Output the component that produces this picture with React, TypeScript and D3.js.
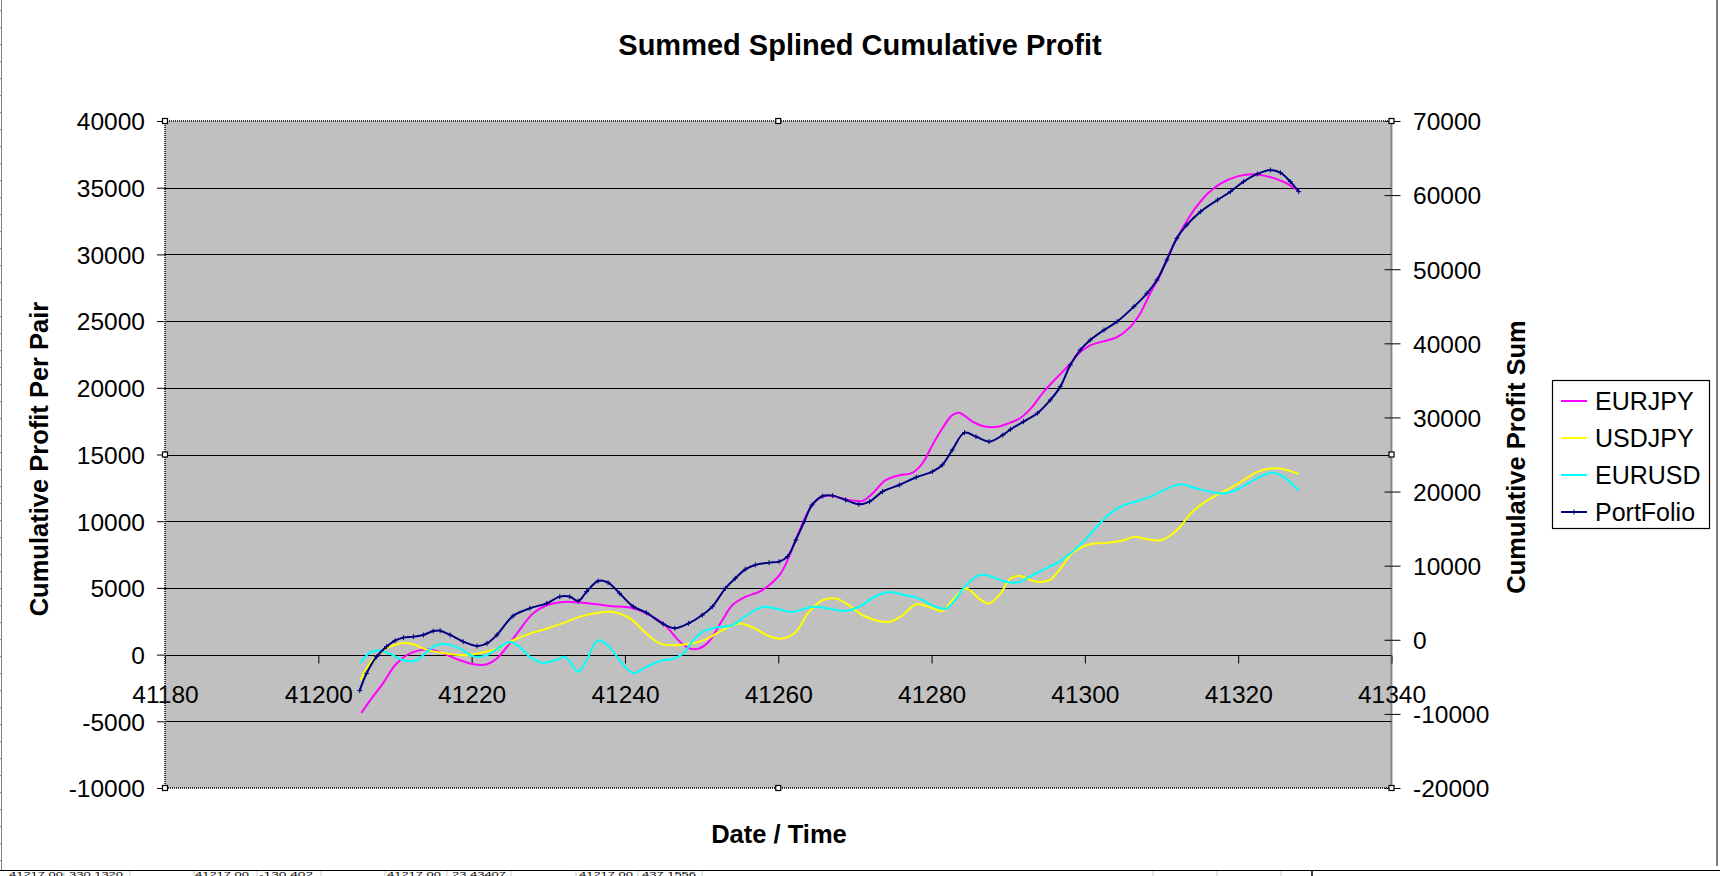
import * as d3 from "d3";
import React, { useEffect, useRef } from "react";

type Pt = [number, number];

// date serial, profit (left axis)
const eurjpy: Pt[] = [
  [41205.6, -4380], [41207.0, -3250], [41208.5, -2100], [41210.0, -800], [41211.5, -50],
  [41213.0, 300], [41214.5, 375], [41216.3, 75], [41218.5, -425], [41220.2, -725], [41222.0, -725],
  [41223.3, -300], [41224.6, 575], [41225.9, 1575], [41228.0, 3075], [41229.8, 3700],
  [41232.0, 3950], [41234.1, 3900], [41236.3, 3775], [41238.5, 3625], [41240.7, 3525],
  [41242.8, 3075], [41245.0, 2325], [41247.2, 950], [41248.5, 450], [41249.6, 450],
  [41250.9, 950], [41252.7, 2575], [41254.0, 3700], [41255.7, 4325], [41257.5, 4700],
  [41258.8, 5200], [41260.3, 6075], [41261.4, 7325], [41262.7, 9200], [41264.0, 10825],
  [41265.3, 11700], [41266.6, 11925], [41268.4, 11700], [41270.1, 11525], [41271.0, 11525],
  [41272.3, 12075], [41274.0, 13075], [41275.8, 13450], [41277.5, 13625], [41278.8, 14325],
  [41280.1, 15700], [41281.4, 16950], [41282.7, 17950], [41283.6, 18125], [41285.4, 17450],
  [41287.1, 17075], [41288.8, 17100], [41290.2, 17375], [41291.5, 17700], [41292.9, 18425],
  [41294.6, 19675], [41296.4, 20800], [41298.1, 21800], [41299.4, 22675], [41300.7, 23175],
  [41302.5, 23500], [41304.2, 23800], [41305.9, 24550], [41307.2, 25550], [41308.5, 27050],
  [41309.9, 28550], [41311.2, 30300], [41312.7, 31925], [41314.2, 33300], [41316.0, 34550],
  [41317.7, 35300], [41319.9, 35850], [41322.0, 36000], [41323.8, 35850], [41326.0, 35425],
  [41327.9, 34750],
];

const usdjpy: Pt[] = [
  [41205.5, -1925], [41206.7, -675], [41208.5, 325], [41209.8, 700], [41211.1, 875],
  [41212.4, 775], [41214.1, 375], [41216.7, 75], [41218.9, -50], [41221.1, 125],
  [41223.3, 450], [41225.4, 1075], [41227.6, 1575], [41229.8, 1950], [41232.0, 2375],
  [41234.1, 2825], [41236.3, 3125], [41238.5, 3200], [41240.7, 2700], [41242.8, 1575],
  [41244.6, 825], [41246.3, 700], [41248.0, 775], [41250.5, 1125], [41252.7, 1825],
  [41254.9, 2325], [41257.0, 1950], [41258.8, 1375], [41260.5, 1200], [41262.3, 1700],
  [41264.0, 3200], [41265.8, 4075], [41267.5, 4200], [41269.2, 3700], [41271.0, 2950],
  [41272.7, 2575], [41274.5, 2450], [41276.2, 2950], [41278.0, 3775], [41279.7, 3575],
  [41281.4, 3275], [41282.7, 4075], [41284.5, 4950], [41286.2, 4200], [41287.5, 3825],
  [41289.0, 4575], [41290.3, 5700], [41291.6, 5900], [41292.9, 5575], [41294.2, 5450],
  [41295.5, 5625], [41296.8, 6450], [41298.5, 7700], [41300.7, 8275], [41302.9, 8375],
  [41305.1, 8575], [41306.4, 8825], [41308.1, 8650], [41309.9, 8575], [41311.2, 8950],
  [41312.5, 9625], [41313.8, 10575], [41315.5, 11375], [41317.2, 11950], [41319.0, 12500],
  [41320.7, 13075], [41322.5, 13700], [41324.2, 13950], [41326.0, 13900], [41327.9, 13525],
];

const eurusd: Pt[] = [
  [41205.5, -625], [41206.7, 125], [41208.0, 325], [41209.3, 75], [41211.1, -425],
  [41212.8, -425], [41214.1, 200], [41215.4, 700], [41216.7, 775], [41218.5, 450],
  [41220.2, -125], [41222.0, -50], [41223.7, 575], [41225.0, 950], [41226.3, 575],
  [41227.6, -175], [41229.3, -625], [41231.1, -375], [41232.2, -175], [41233.0, -675],
  [41233.9, -1300], [41235.0, -425], [41236.5, 1075], [41238.0, 575], [41239.3, -425],
  [41241.1, -1375], [41242.8, -925], [41244.6, -475], [41246.3, -300], [41247.6, 75],
  [41248.9, 1075], [41250.1, 1700], [41251.8, 2025], [41254.0, 2200], [41256.2, 3075],
  [41258.0, 3575], [41259.7, 3450], [41261.8, 3200], [41264.4, 3575], [41266.6, 3450],
  [41268.8, 3275], [41270.5, 3575], [41272.7, 4375], [41274.5, 4700], [41276.6, 4450],
  [41278.4, 4200], [41280.6, 3575], [41281.9, 3450], [41283.2, 4200], [41284.5, 5200],
  [41286.2, 5950], [41287.7, 5875], [41289.4, 5500], [41291.2, 5400], [41292.9, 5875],
  [41294.6, 6375], [41296.4, 6875], [41298.1, 7575], [41299.8, 8450], [41301.6, 9625],
  [41303.3, 10575], [41305.1, 11200], [41306.8, 11500], [41308.5, 11825], [41310.3, 12325],
  [41312.5, 12775], [41314.6, 12450], [41316.4, 12200], [41318.1, 12075], [41319.9, 12375],
  [41321.6, 12950], [41323.3, 13450], [41324.6, 13650], [41325.9, 13325], [41327.9, 12325],
];

// summed profit (right axis)
const portfolio: Pt[] = [
  [41205.4, -6860], [41206.3, -4525], [41207.6, -2275], [41208.9, -925], [41210.0, -120],
  [41211.1, 290], [41212.4, 425], [41213.7, 650], [41215.0, 1185], [41215.9, 1230],
  [41217.2, 650], [41218.9, -250], [41220.7, -835], [41222.0, -475], [41223.3, 650],
  [41225.4, 3210], [41227.6, 4245], [41229.8, 4920], [41231.5, 5820], [41232.8, 5820],
  [41233.9, 5235], [41235.0, 6495], [41236.5, 7935], [41237.8, 7710], [41239.3, 6270],
  [41241.1, 4470], [41242.8, 3660], [41245.0, 2130], [41246.5, 1545], [41248.3, 2220],
  [41250.1, 3345], [41251.4, 4470], [41253.1, 6945], [41254.4, 8295], [41255.7, 9510],
  [41257.0, 10095], [41258.8, 10410], [41260.1, 10545], [41261.2, 11220], [41262.3, 13465],
  [41263.4, 15940], [41264.4, 18190], [41265.8, 19405], [41267.1, 19450], [41268.8, 18865],
  [41270.5, 18280], [41271.9, 18640], [41273.6, 19990], [41275.8, 20890], [41278.0, 21925],
  [41280.1, 22690], [41281.4, 23590], [41282.7, 25610], [41284.3, 27950], [41285.8, 27410],
  [41287.5, 26735], [41289.3, 27635], [41290.3, 28400], [41292.0, 29435], [41293.8, 30560],
  [41295.5, 32360], [41296.8, 34160], [41298.1, 37080], [41299.4, 39105], [41300.7, 40455],
  [41302.5, 41805], [41304.2, 42930], [41306.4, 44955], [41308.1, 46750], [41309.4, 48550],
  [41310.7, 51250], [41312.0, 54175], [41313.3, 55975], [41315.1, 57770], [41317.3, 59345],
  [41319.0, 60470], [41320.7, 61820], [41322.5, 62855], [41324.2, 63395], [41325.5, 63035],
  [41326.8, 61820], [41327.9, 60470],
];

const xTicks = [41180, 41200, 41220, 41240, 41260, 41280, 41300, 41320, 41340];
const leftTicks = [-10000, -5000, 0, 5000, 10000, 15000, 20000, 25000, 30000, 35000, 40000];
const rightTicks = [-20000, -10000, 0, 10000, 20000, 30000, 40000, 50000, 60000, 70000];

const seriesNames = ["EURJPY", "USDJPY", "EURUSD", "PortFolio"];
const seriesColors = ["#FF00FF", "#FFFF00", "#00FFFF", "#000080"];

// spreadsheet cells peeking out below the chart
const sheetTexts = ["41217.00", "330.1320", "41217.00", "-130.402", "41217.00", "23.43407", "41217.00", "437.1556"];

const FONT = "'Liberation Sans', Arial, sans-serif";
const plain = (d: d3.NumberValue) => String(d);

const App: React.FC = () => {
  const ref = useRef<SVGSVGElement>(null);

  useEffect(() => {
    if (!ref.current) return;
    const svg = d3.select(ref.current);
    svg.selectAll("*").remove();

    const width = 1720,
      height = 876;
    const plot = { left: 165, right: 1391.5, top: 121, bottom: 788 };

    const x = d3.scaleLinear().domain([41180, 41340]).range([plot.left, plot.right]);
    const yL = d3.scaleLinear().domain([-10000, 40000]).range([plot.bottom, plot.top]);
    const yR = d3.scaleLinear().domain([-20000, 70000]).range([plot.bottom, plot.top]);

    svg.append("rect").attr("width", width).attr("height", height).attr("fill", "#fff");

    // sheet fragments (left row ticks, bottom cells)
    const sheet = svg.append("g");
    sheet.append("line").attr("x1", 1.5).attr("x2", 1.5).attr("y1", 0).attr("y2", 870)
      .attr("stroke", "#808080");
    d3.range(10.7, 870, 17).forEach((yy) => {
      sheet.append("line").attr("x1", 0).attr("x2", 2).attr("y1", yy).attr("y2", yy).attr("stroke", "#808080");
    });
    sheet.append("line").attr("x1", 1717).attr("x2", 1717).attr("y1", 0).attr("y2", 866)
      .attr("stroke", "#000");
    sheet.append("line").attr("x1", 0).attr("x2", width).attr("y1", 870.5).attr("y2", 870.5)
      .attr("stroke", "#000").attr("stroke-width", 1.2);
    [64, 130, 194, 257, 321, 385, 447, 511, 576, 638, 702, 1153, 1217, 1281].forEach((cx) => {
      sheet.append("line").attr("x1", cx).attr("x2", cx).attr("y1", 871).attr("y2", height)
        .attr("stroke", "#c8c8c8");
    });
    sheet.append("line").attr("x1", 1312).attr("x2", 1312).attr("y1", 871).attr("y2", height)
      .attr("stroke", "#000").attr("stroke-width", 1.5);
    const cellX = [9, 69, 195, 259, 387, 452, 579, 642];
    sheet.selectAll(".cell").data(sheetTexts).enter().append("text")
      .attr("x", (_, i) => cellX[i]).attr("y", 876.5)
      .attr("textLength", 54).attr("lengthAdjust", "spacingAndGlyphs")
      .style("font-family", FONT).style("font-size", "7px").text((d) => d);

    // plot area
    svg.append("rect")
      .attr("x", plot.left).attr("y", plot.top)
      .attr("width", plot.right - plot.left).attr("height", plot.bottom - plot.top)
      .attr("fill", "#C0C0C0");

    // gridlines
    svg.append("g").selectAll("line")
      .data(leftTicks.slice(1, -1)).enter().append("line")
      .attr("x1", plot.left).attr("x2", plot.right)
      .attr("y1", (d) => Math.round(yL(d)) + 0.5).attr("y2", (d) => Math.round(yL(d)) + 0.5)
      .attr("stroke", "#000").attr("stroke-width", 1);

    const styleAxis = (g: d3.Selection<SVGGElement, unknown, null, undefined>) => {
      g.selectAll("text").style("font-family", FONT).style("font-size", "24.5px").attr("fill", "#000");
      g.selectAll(".tick line").attr("stroke", "#000");
      g.select(".domain").remove();
    };

    // left axis
    const gl = svg.append("g").attr("transform", `translate(${plot.left},0)`)
      .call(d3.axisLeft(yL).tickValues(leftTicks).tickSize(8).tickPadding(12).tickFormat(plain));
    styleAxis(gl);
    gl.selectAll("text").attr("dy", "0.36em");

    // right axis (crossing ticks)
    const gr = svg.append("g").attr("transform", `translate(${plot.right},0)`)
      .call(d3.axisRight(yR).tickValues(rightTicks).tickSize(9).tickPadding(12.5).tickFormat(plain));
    styleAxis(gr);
    gr.selectAll(".tick line").attr("x1", -7);
    gr.selectAll("text").attr("dy", "0.36em");

    // x axis on the zero line
    const gx = svg.append("g").attr("transform", `translate(0,${Math.round(yL(0)) + 0.5})`)
      .call(d3.axisBottom(x).tickValues(xTicks).tickSize(8).tickSizeOuter(0).tickPadding(22).tickFormat(plain));
    styleAxis(gx);

    // series
    const line = (yScale: d3.ScaleLinear<number, number>) =>
      d3.line<Pt>().x((d) => x(d[0])).y((d) => yScale(d[1])).curve(d3.curveCatmullRom.alpha(0.5));

    const leftSeries = [eurjpy, usdjpy, eurusd];
    leftSeries.forEach((data, i) => {
      svg.append("path").datum(data)
        .attr("d", line(yL))
        .attr("fill", "none").attr("stroke", seriesColors[i]).attr("stroke-width", 2);
    });

    svg.append("path").datum(portfolio)
      .attr("d", line(yR))
      .attr("fill", "none").attr("stroke", seriesColors[3]).attr("stroke-width", 2);
    svg.append("g").selectAll("path").data(portfolio).enter().append("path")
      .attr("transform", (d) => `translate(${x(d[0])},${yR(d[1])})`)
      .attr("d", "M-2.5,0H2.5M0,-2.5V2.5")
      .attr("stroke", seriesColors[3]).attr("stroke-width", 1);

    // plot border (dotted selection look) and handles
    svg.append("rect")
      .attr("x", plot.left).attr("y", plot.top)
      .attr("width", plot.right - plot.left).attr("height", plot.bottom - plot.top)
      .attr("fill", "none").attr("stroke", "#333").attr("stroke-width", 2)
      .attr("stroke-dasharray", "1,1");
    const midX = (plot.left + plot.right) / 2;
    const midY = (plot.top + plot.bottom) / 2;
    [
      [plot.left, plot.top], [midX, plot.top], [plot.right, plot.top],
      [plot.left, midY], [plot.right, midY],
      [plot.left, plot.bottom], [midX, plot.bottom], [plot.right, plot.bottom],
    ].forEach(([hx, hy]) => {
      svg.append("rect").attr("x", hx - 2.5).attr("y", hy - 2.5).attr("width", 5).attr("height", 5)
        .attr("fill", "#fff").attr("stroke", "#000").attr("stroke-width", 1.2);
    });

    // titles
    svg.append("text").attr("x", 860).attr("y", 55).attr("text-anchor", "middle")
      .style("font-family", FONT).style("font-size", "29px").style("font-weight", "bold")
      .text("Summed Splined Cumulative Profit");
    svg.append("text").attr("x", 779).attr("y", 843).attr("text-anchor", "middle")
      .style("font-family", FONT).style("font-size", "25.5px").style("font-weight", "bold")
      .text("Date / Time");
    svg.append("text").attr("transform", "translate(39,459) rotate(-90)")
      .attr("text-anchor", "middle").attr("dy", "0.36em")
      .style("font-family", FONT).style("font-size", "25.5px").style("font-weight", "bold")
      .text("Cumulative Profit Per Pair");
    svg.append("text").attr("transform", "translate(1516,457) rotate(-90)")
      .attr("text-anchor", "middle").attr("dy", "0.36em")
      .style("font-family", FONT).style("font-size", "25.5px").style("font-weight", "bold")
      .text("Cumulative Profit Sum");

    // legend
    const lg = svg.append("g").attr("transform", "translate(1552,380)");
    lg.append("rect").attr("x", 0.5).attr("y", 0.5).attr("width", 157).attr("height", 148)
      .attr("fill", "#fff").attr("stroke", "#000").attr("stroke-width", 1.2);
    const items = lg.selectAll(".item").data(seriesNames).enter().append("g")
      .attr("transform", (_, i) => `translate(0,${21 + i * 37})`);
    items.append("line").attr("x1", 9).attr("x2", 35).attr("y1", 0).attr("y2", 0)
      .attr("stroke", (_, i) => seriesColors[i]).attr("stroke-width", 2);
    items.filter((_, i) => i === 3).append("line")
      .attr("x1", 22).attr("x2", 22).attr("y1", -2.5).attr("y2", 2.5)
      .attr("stroke", seriesColors[3]).attr("stroke-width", 1);
    items.append("text").attr("x", 43).attr("dy", "0.36em")
      .style("font-family", FONT).style("font-size", "25px")
      .text((d) => d);
  }, []);

  return (
    <div>
      <style>{"body{margin:0}"}</style>
      <svg ref={ref} width={1720} height={876} style={{ display: "block" }} />
    </div>
  );
};

export default App;
